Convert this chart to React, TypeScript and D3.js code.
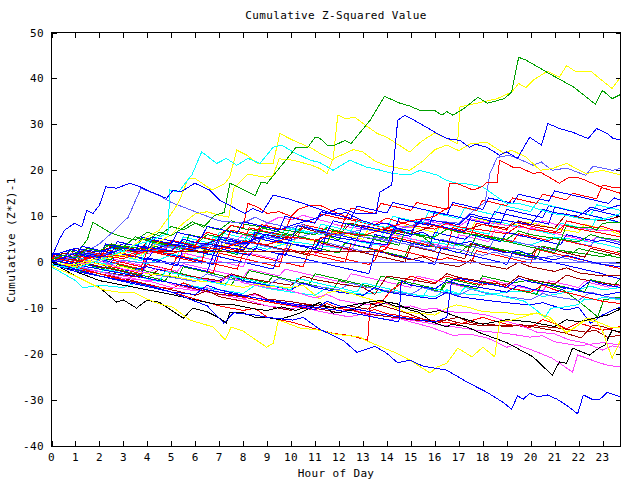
import React from "react";
import * as d3 from "d3";

type P = [number, number];

const title = "Cumulative Z-Squared Value";
const xLabel = "Hour of Day";
const yLabel = "Cumulative (Z*Z)-1";
const xTickValues = [0,1,2,3,4,5,6,7,8,9,10,11,12,13,14,15,16,17,18,19,20,21,22,23];
const yTickValues = [-40,-30,-20,-10,0,10,20,30,40,50];
const xDomain: P = [0, 23.75];
const yDomain: P = [-40, 50];

const RED = "#ff0000", GREEN = "#00a000", BLUE = "#0000ff", MAG = "#ff40ff", CYAN = "#00ffff",
  DRED = "#a00000", YEL = "#ffff00", BLACK = "#000000", BVIO = "#6060ff";

const g1: P[] = [[0,0.5],[0.5,1.5],[1,1],[1.5,3],[2,2.4],[2.5,4],[3,3.3],[3.5,5.5],[4,4.8],[4.5,6.5],[5,5.8],[5.5,7.5],[5.88,8.8],[6.35,7.6],[6.8,10.2],[7.2,10.8],[7.45,17.2],[8.5,14.5],[8.75,17.4],[9,17.2],[9.95,23.3],[10.2,25],[10.7,25],[11,27.2],[11.2,27],[11.5,25.5],[11.83,25.5],[12.25,26.5],[12.5,25.8],[13.3,30.9],[13.9,36.1],[14.55,34.6],[14.95,34],[15.4,33],[16,33],[16.3,32],[16.5,32.8],[16.75,32],[17.2,33.4],[17.8,35.9],[18.2,34.6],[18.9,35.6],[19.2,37],[19.5,44.6],[19.8,44],[20.4,42.2],[20.9,40.7],[21.8,38.1],[22.7,34.4],[23,37.4],[23.4,35.6],[23.75,36.5]];
const y1: P[] = [[0,0],[0.5,-0.5],[1,-0.5],[2,1],[3,2],[3.5,4],[4,5.5],[4.5,7],[5.1,11.3],[5.35,13.5],[5.7,18.2],[6,18.2],[6.7,15.7],[7.2,17],[7.44,18.5],[7.73,24.4],[8.15,23.3],[8.6,21.5],[9.25,21.5],[9.53,28],[10.1,26.5],[10.9,24.7],[11.2,23.7],[11.75,22.2],[11.95,32],[12.3,31.2],[12.65,31.6],[13,30.2],[13.6,28],[14,27.2],[14.95,24],[15.4,26.1],[15.7,27.2],[16,28.1],[16.4,27.2],[16.95,25.8],[17.05,33.8],[17.75,34.6],[18.6,35.6],[19.2,37],[19.5,38.9],[19.8,38],[20.1,39.6],[20.7,41.6],[21.2,40.3],[21.5,42.8],[21.9,41.4],[22.5,41.6],[23.4,37.8],[23.75,40.3]];
const y2: P[] = [[0,0],[1,-1],[2,0.5],[3,1.5],[3.5,0.8],[4,2.5],[4.5,4.5],[5,6],[5.5,8.5],[6,10.5],[6.5,11],[7,10.2],[7.4,9.8],[7.6,16],[8.2,19.2],[8.9,18.5],[9.25,18.8],[9.5,22.5],[10.1,22.2],[10.86,21.1],[11.2,20.4],[11.5,19.3],[11.75,22.5],[12.6,24.5],[13,24],[13.5,22],[14,21],[14.95,20],[15.5,22],[16,24.5],[16.5,25.5],[17,24.3],[17.5,25.8],[18.17,26.1],[18.5,25],[18.9,23.7],[19.2,24.4],[19.8,22.9],[20.4,20],[20.9,20.4],[21.5,21.5],[22.3,19.3],[23,20],[23.75,19]];
const c1: P[] = [[0,-0.5],[1,-1.5],[1.5,-0.5],[2,0.5],[2.5,1.5],[3,2.5],[3.5,3.8],[4,4.5],[4.5,5.5],[4.86,6.3],[4.94,15.7],[5.3,15.3],[5.86,19],[6.27,24],[6.9,21.5],[7.3,22.6],[7.73,21.1],[8.2,22.6],[8.7,21.5],[9.25,25],[9.6,25.5],[10.08,24],[10.8,22.2],[11.2,21.7],[11.75,20],[12.45,22.2],[13.15,20.7],[13.6,20.2],[14.25,19.3],[14.95,19],[15.38,20],[16.08,19],[16.5,17.8],[16.9,17.2],[17.4,17],[18,16.4],[18.6,14.2],[19,12.8],[19.5,12.8],[19.9,12.3],[20.9,10.6],[21.5,10.2],[22.3,9.2],[22.9,9.2],[23.3,9.8],[23.75,10.6]];
const b1: P[] = [[0,1],[0.35,5.2],[0.55,7],[0.97,8.5],[1.26,7.7],[1.48,11.3],[1.73,10.6],[2,12.4],[2.27,16.4],[2.72,16.1],[3.27,17.2],[3.7,16.4],[3.97,15.7],[4.8,13.9],[5.08,15.7],[5.4,15.3],[5.98,17.2],[6.6,15.7],[7.02,13.5],[8.07,10.6],[8.4,11.7],[8.8,10.8],[9.25,14.6],[9.82,13.9],[10.5,12.8],[11.2,11.5],[11.8,10.5],[12.3,10.8],[13,9],[13.5,8.2],[14,8.5],[14.5,7.2],[15,6],[15.5,6.5],[16,5],[17,4],[17.5,4.5],[18,3.2],[19,2],[19.5,2.6],[20,1.5],[21,0.5],[21.5,1.5],[22,0.8],[23,-0.5],[23.75,-1]];
const b2: P[] = [[0,0],[1,2],[2,1],[3,3],[4,2.5],[5,4],[6,3],[7,5],[8,4],[9,6],[10,8],[11,9.5],[12,11.8],[12.8,10.5],[13.55,10.6],[13.7,15.2],[14.2,16.8],[14.45,30.9],[14.75,32],[15.38,30.2],[16,28.3],[16.5,26.9],[17.05,26.5],[17.45,25],[17.7,25.7],[18.17,25],[18.7,23.3],[19,24],[19.45,22.6],[19.96,27.2],[20.45,25.5],[20.72,30.2],[21.2,29.1],[21.75,28.3],[22.4,26.9],[22.75,29.1],[23.2,28],[23.45,26.9],[23.75,26.7]];
const bv1: P[] = [[0,0],[1,1],[2,4],[2.65,7],[3.2,9.8],[3.73,16.1],[4.5,14.5],[5,13],[6,11],[7,9],[8,8.5],[8.5,9.8],[9,8.6],[10,7.5],[10.5,8.2],[11,7],[12,6],[12.5,6.6],[13,5.5],[14,4.7],[15,3.8],[15.5,4.5],[16,3.5],[17,2.8],[18,1.5],[18.5,2.2],[19,1.4],[20,0.5],[21,1.4],[22,0.2],[23,-0.5],[23.75,-0.2]];
const bv2: P[] = [[0,1],[1,2],[2,1.3],[3,3],[4,2.2],[5,3.5],[6,2.8],[7,4.5],[8,3.8],[9,5.5],[10,4.8],[11,6.5],[12,5.8],[13,7.2],[14,6.5],[15,8],[16,9],[17,8.5],[17.8,12],[18.1,13],[18.3,19.3],[18.6,22.8],[19.1,23.3],[19.5,22.5],[20.1,21.1],[20.45,21.8],[20.9,20],[21.5,20.5],[22.3,18.9],[22.6,20.9],[23,20.5],[23.4,20],[23.75,20.4]];
const r1: P[] = [[0,1],[1,0],[2,1.5],[3,0.8],[4,2.5],[5,1.8],[6,3.5],[7,2.8],[8,4.5],[9,3.8],[10,5.5],[11,4.8],[12,6.5],[13,5.8],[14,7.5],[15,9],[16,10],[16.55,12],[16.6,17.2],[17,17],[17.6,15.7],[18,16.5],[18.17,17.4],[18.6,17.4],[18.7,22.2],[19.25,20.7],[19.6,20.5],[20.1,19.3],[20.4,19.6],[21.2,17.2],[21.6,18.5],[22,18.4],[22.3,17.8],[23,16.2],[23.75,15]];
const b3: P[] = [[0,0],[1,-1.5],[2,-3],[3,-4],[4,-5],[5,-6.5],[6,-8.5],[6.5,-9.5],[7.2,-13.3],[7.6,-11],[8.5,-11.5],[9,-12],[10.07,-12.6],[10.5,-12],[11.2,-14.6],[12.17,-17],[12.75,-19.6],[13.5,-18.3],[13.99,-19.8],[14.45,-21.9],[14.95,-21.3],[15.5,-22.6],[16.5,-23.5],[17.35,-26.1],[18.17,-28.3],[18.85,-30.5],[19.2,-32],[19.45,-29.1],[19.7,-29.8],[19.96,-28.5],[20.3,-29.3],[20.7,-28.9],[21.1,-29.8],[21.6,-31.5],[21.96,-33],[22.2,-28.9],[22.55,-29.8],[22.9,-29.8],[23.2,-28.3],[23.45,-28.8],[23.75,-29.3]];
const y3: P[] = [[0,0],[0.06,-1],[1,-3],[2.15,-6],[2.78,-6.5],[3.4,-6.5],[3.82,-7.6],[4.4,-8.9],[5.07,-9.8],[5.78,-12.6],[6.75,-14.1],[7.25,-16.9],[7.5,-14.1],[8,-15],[8.98,-18.5],[9.26,-17.6],[9.47,-12.6],[9.8,-13.2],[10.36,-14.3],[11.2,-14.8],[11.9,-15.7],[12.87,-16.3],[13.2,-17.2],[14.4,-19.8],[14.95,-21.3],[15.8,-24.1],[16.1,-22.8],[16.5,-22],[16.96,-18.7],[17.55,-20.6],[18,-18.5],[18.5,-20.6],[18.7,-13],[19.3,-12.5],[20.25,-11],[20.8,-12],[21.5,-15.4],[21.9,-14.1],[22.3,-12.2],[22.7,-12.5],[23,-15],[23.4,-20.9],[23.75,-17]];
const k1: P[] = [[0,0],[1,-3],[2,-5.5],[2.72,-8.7],[3,-8.2],[3.55,-10],[3.97,-8.3],[4.5,-8.7],[5.5,-12.2],[5.9,-10],[6.5,-10.8],[7.03,-12.2],[7.3,-13.3],[7.44,-10.9],[8,-11],[8.5,-12],[9,-12],[9.5,-12.5],[10.36,-11.1],[10.78,-10],[11.2,-8.7],[11.75,-11.1],[12.5,-10.5],[13.2,-8.7],[13.6,-9.5],[14,-8.7],[14.4,-9],[14.95,-10.4],[15.3,-10.8],[15.9,-13],[16.5,-14.1],[16.7,-13.5],[17.3,-14],[17.9,-15.4],[19,-17.5],[20.1,-20.6],[20.9,-24.6],[21.2,-21.7],[21.5,-22],[21.75,-18.7],[22.45,-20.2],[22.85,-18.7],[23.1,-18],[23.4,-14.8],[23.75,-15.2]];
const m1: P[] = [[0,0],[1,-1.5],[2,-2],[3,-3.5],[4,-4],[5,-5.5],[6,-6.2],[6.5,-5.5],[7,-7],[8,-8],[9,-9.5],[10,-10.2],[10.5,-9.5],[11,-10.5],[12,-11.5],[12.45,-11.9],[13,-11.2],[13.5,-12],[14,-12.5],[14.5,-12.2],[15,-13],[15.8,-14.1],[16.75,-15.9],[17.5,-15.7],[18.2,-16.5],[19,-18.5],[19.4,-17.9],[20.25,-19.5],[20.9,-20.9],[21.75,-23.9],[21.96,-20.2],[22.3,-20.8],[22.85,-21.9],[23.3,-22.5],[23.75,-22.8]];
const m2: P[] = [[0,0.5],[1,-0.5],[2,0.3],[3,-1.5],[4,-2.3],[4.5,-1],[5,-2.2],[6,-3.5],[7,-4.2],[7.5,-3],[8,-4.5],[9,-5.5],[10,-6.2],[11,-7.8],[11.5,-7],[12,-8.2],[13,-9.2],[14,-9],[14.5,-9.8],[15,-9.5],[15.5,-10.3],[16,-10],[16.5,-10.8],[17.35,-10.9],[18.17,-11.5],[18.8,-12.6],[19.55,-13.7],[20.25,-15.2],[21,-15.6],[21.6,-16.9],[22.3,-17.6],[23,-19.1],[23.4,-18.2],[23.75,-18.5]];
const dr1: P[] = [[0,1],[1,0.5],[2,-1],[3,-2],[4,-3.5],[5,-4.5],[6,-5.8],[7,-7],[8,-7.5],[8.5,-6.8],[9,-8],[10,-8.6],[11,-9.4],[11.8,-10],[12.6,-9.7],[13.2,-10.2],[13.7,-9.3],[14.5,-10.5],[15.4,-12.2],[16.1,-13.3],[16.5,-12.5],[17,-12],[17.5,-13.2],[18.3,-13.5],[19,-14.1],[19.6,-13.6],[20.9,-14.8],[21.5,-15.5],[22.1,-16.5],[22.6,-13.7],[23,-14],[23.75,-15.4]];
const y4: P[] = [[0,2],[1,1],[2,-0.5],[3,-1],[4,-2.5],[5,-3],[6,-4],[7,-4.5],[8,-5.5],[8.5,-4.8],[9,-5.2],[10,-5.5],[10.5,-5],[11.2,-8],[11.5,-6.7],[12,-6.1],[12.5,-6.8],[13,-7.6],[13.6,-8.5],[14.2,-9.5],[14.8,-10.9],[15.5,-11.2],[16,-11.5],[16.5,-10],[16.9,-9.3],[17.4,-9.8],[17.9,-10.6],[18.4,-10.9],[19,-11],[19.55,-11.5],[20.3,-11.1],[20.8,-12.6],[21.5,-15.2],[21.9,-14],[22.3,-12.6],[22.8,-13],[23.4,-14.3],[23.75,-14.1]];
const dr2: P[] = [[0,1],[0.5,2],[1,1.5],[1.5,3],[2,2.5],[2.5,3.2],[3,2.6],[3.5,2.3],[13.8,2.3],[14.2,1.5],[15,0.5],[15.5,1.2],[16,0],[17,-1],[17.5,0.5],[18,-0.5],[19,-1.5],[19.5,0],[20,-1],[21,-2],[21.5,-1.2],[22,-2.3],[23,-3],[23.75,-2.8]];
const bv3: P[] = [[0,1],[0.5,0.5],[1,1.2],[1.5,0.3],[2,0.8],[2.5,-0.5],[3,0.4],[3.7,-0.1],[23.75,-0.1]];
const r2: P[] = [[0,0],[0.75,-0.9],[1,1.5],[2,0.3],[2.25,2.8],[3.5,1.3],[3.75,3.5],[4.75,2.3],[5,4.8],[6,3.6],[6.25,5.5],[7.25,4.3],[7.5,7],[8.5,5.8],[8.75,8.2],[9.75,7],[10,9.8],[11,8.6],[11.25,10.5],[12.25,9.3],[12.5,11.8],[13.5,10.6],[13.75,12.8],[15,11.3],[15.25,13],[16.5,11.5],[16.75,12.5],[17.75,11.3],[18,13.5],[19,12.3],[19.25,14],[20.25,12.8],[20.5,14.8],[21.5,13.6],[21.75,15],[22.75,13.8],[23,16.8],[23.5,16.2],[23.75,16.3]];
const b4: P[] = [[0,1],[0.5,0.4],[0.75,2.8],[2,1.3],[2.25,4],[3.5,2.5],[3.75,5.5],[5,4],[5.25,6.5],[6.25,5.3],[6.5,7.8],[7.75,6.3],[8,8.8],[9.5,7],[9.75,10],[11,8.5],[11.25,11],[12.5,9.5],[12.75,12.2],[14,10.7],[14.25,13],[15.5,11.5],[16.5,10.3],[16.75,13],[18,11.5],[18.25,14],[19.25,12.8],[19.5,14.8],[20.75,13.3],[21,15.5],[22.25,14],[23.25,12.8],[23.5,14],[23.75,13.5]];
const c2: P[] = [[0,0],[1,-1.2],[1.25,0.8],[2.25,-0.4],[2.5,1.8],[3.75,0.3],[4,3],[5.25,1.5],[5.5,4.5],[6.5,3.3],[6.75,5.5],[8,4],[8.25,6.5],[9.5,5],[9.75,7.5],[11,6],[11.25,8.3],[12.5,6.8],[12.75,9],[14,7.5],[14.25,10],[15.5,8.5],[15.75,11],[17,9.5],[17.25,11.8],[18.5,10.3],[18.75,12.5],[20,11],[20.25,13],[21.5,11.5],[22.5,10.3],[22.75,12.5],[23.75,11.3]];
const b5: P[] = [[0,2],[1,0.8],[1.25,3.5],[2.5,2],[2.75,4.5],[4,3],[4.25,5.5],[5.5,4],[6.75,2.5],[7,5.5],[8.25,4],[8.5,6.5],[10,4.7],[10.25,8],[11.5,6.5],[11.75,9],[13,7.5],[14.25,6],[14.5,9.5],[15.75,8],[16,11],[17.25,9.5],[18.25,8.3],[18.5,11],[19.75,9.5],[20.75,8.3],[21,12],[22.25,10.5],[22.5,11.5],[23.75,10]];
const b6: P[] = [[0,-0.5],[0.75,-1.4],[1,1.5],[2.25,0],[2.5,2.5],[3.75,1],[5.25,-0.8],[5.5,3],[6.75,1.5],[7,4.5],[8.5,2.7],[8.75,5.5],[10,4],[11.25,2.5],[11.5,6.5],[12.75,5],[13,8],[14.25,6.5],[15,5.6],[15.25,9],[16.5,7.5],[17.25,6.6],[17.5,10],[18.75,8.5],[19,11.5],[20.5,9.7],[20.75,12.3],[22,10.8],[23.5,9],[23.75,8.5]];
const g2: P[] = [[0,0.5],[1,-0.7],[1.25,2],[2.5,0.5],[2.75,3.5],[4,2],[4.25,4.5],[5.5,3],[5.75,6],[7,4.5],[7.25,7],[8.5,5.5],[8.75,7.5],[10,6],[11.5,4.2],[11.75,7],[13,5.5],[14.5,3.7],[14.75,6.5],[16,5],[17.5,3.2],[17.75,6],[19,4.5],[21,2.1],[21.25,4.8],[21.5,8],[22,7.5],[22.5,7.6],[22.75,7],[23,8.5],[23.75,8.7]];
const r3: P[] = [[0,1.5],[1,0.3],[1.25,2],[2.5,0.5],[3.75,-1],[4,2.5],[5.25,1],[6.25,-0.2],[6.5,4],[7.75,2.5],[8,3.5],[8.25,7.5],[9.5,6],[10.25,5.1],[10.5,8.2],[11.75,6.7],[12,6.5],[12.25,9.5],[13.5,8],[15,6.2],[15.25,8.8],[16.5,7.3],[17.5,6.1],[17.75,8.5],[19,7],[19.25,8.8],[20.5,7.3],[21.25,6.4],[21.5,9],[22.75,7.5],[23,7.8],[23.75,6.5]];
const m3: P[] = [[0,0],[1,-1.2],[1.25,0],[2.25,-1.2],[2.5,0.8],[3.75,-0.7],[4,1],[5.25,-0.5],[5.5,2],[6.75,0.5],[8,-1],[8.25,2],[9.5,0.5],[9.75,3],[11,1.5],[11.25,4],[12.5,2.5],[12.75,5],[14,3.5],[14.25,6],[15.5,4.5],[16.75,3],[17,6],[18.25,4.5],[18.5,7],[19.75,5.5],[20,7.5],[21.25,6],[22.5,4.5],[22.75,5.5],[23.75,4.4]];
const b7: P[] = [[0,1],[1,-0.2],[1.25,1.5],[2.5,0],[2.75,2],[4,0.5],[4.25,2.5],[5.5,1],[6.75,-0.5],[7,3],[8.25,1.5],[8.5,3],[9.75,1.5],[10,4],[11,2.8],[11.25,5.5],[12.5,4],[13.25,3.1],[13.5,6],[14.75,4.5],[15.75,3.3],[16,6.5],[17.25,5],[17.5,6],[18.75,4.5],[19,6.5],[20.25,5],[21.25,3.8],[21.5,6],[22.75,4.5],[23,4.8],[23.75,3.8]];
const r4: P[] = [[0,0],[1,-1.2],[1.25,0.5],[2.5,-1],[3.75,-2.5],[4,1],[5.25,-0.5],[6.75,-2.3],[7,2],[8.25,0.5],[9.5,-1],[9.75,3],[11,1.5],[12.25,0],[12.5,4],[13.75,2.5],[14,3],[14.25,5.5],[15.5,4],[16.5,2.8],[16.75,7.5],[18,6],[19.25,4.5],[19.5,6.2],[20.75,4.7],[21,5.2],[22.25,3.7],[23.75,1.9]];
const g3: P[] = [[0,1],[0.5,0.4],[0.75,2.5],[2,1],[2.25,3.8],[3.5,2.3],[3.75,5],[5,3.5],[6.25,2],[6.5,3.2],[7.75,1.7],[8,4.8],[9.25,3.3],[10.5,1.8],[10.75,3.5],[12,2],[12.25,4.2],[13.5,2.7],[14.75,1.2],[15,4.5],[16.25,3],[17.5,1.5],[17.75,4],[19,2.5],[20.25,1],[20.5,3.5],[21.75,2],[22,3],[23.25,1.5],[23.75,0.9]];
const r5: P[] = [[0,0.5],[1,-0.7],[1.25,1.5],[2.5,0],[3.75,-1.5],[4,-0.5],[5,-1.7],[5.25,1.5],[6.5,0],[7.75,-1.5],[8,2],[9.25,0.5],[10.5,-1],[10.75,2.5],[12,1],[13.25,-0.5],[13.5,0.5],[13.75,3.5],[15,2],[16.25,0.5],[16.5,1],[17.5,-0.2],[17.75,2.5],[19,1],[20,-0.2],[20.25,2.8],[21.5,1.3],[22.75,-0.2],[23.75,-1.4]];
const b8: P[] = [[0,-0.5],[1,-1.7],[1.25,0],[2.5,-1.5],[3.75,-3],[4,1],[5.25,-0.5],[6.5,-2],[6.75,1.5],[8,0],[9.25,-1.5],[9.5,2],[10.75,0.5],[12,-1],[13.25,-2.5],[13.5,2.5],[14.75,1],[16,-0.5],[16.25,3],[17.5,1.5],[18.75,0],[19,-0.5],[19.25,2],[20.5,0.5],[21.75,-1],[23,-2.5],[23.25,-3],[23.75,-3.6]];
const c3: P[] = [[0,0],[1,-1.2],[2,-2.4],[2.25,-1.5],[3.5,-3],[4.5,-4.2],[4.75,-2],[6,-3.5],[7.25,-5],[7.5,-3],[8.75,-4.5],[10,-6],[10.25,-3.5],[11.5,-5],[12.75,-6.5],[13,-4.5],[14.25,-6],[15.5,-7.5],[15.75,-5.5],[17,-7],[17.25,-5.5],[18.5,-7],[19.75,-8.5],[20.6,-11.9],[20.85,-10],[21.35,-9.8],[22,-9.2],[22.25,-8],[22.75,-8.2],[23,-7.6],[23.75,-8.2]];
const g4: P[] = [[0,0],[1,-1.2],[1.25,-0.3],[2.5,-1.8],[2.75,-0.5],[4,-2],[5.25,-3.5],[5.5,-1],[6.75,-2.5],[8,-4],[8.25,-1.8],[9.5,-3.3],[10.75,-4.8],[11,-2.5],[12.25,-4],[13.5,-5.5],[13.75,-3],[15,-4.5],[16.25,-6],[16.5,-3.5],[17.75,-5],[18,-3],[19.25,-4.5],[19.96,-3.9],[21.35,-6],[22.1,-8.9],[22.8,-11.9],[23.05,-8.2],[23.75,-7.6]];
const b9: P[] = [[0,1],[1,0],[2,-1],[3,-2],[4,-1],[5,-2.3],[6,-3.5],[7,-4.5],[7.5,-2.8],[8,-4],[9,-5],[10,-6],[10.5,-4.5],[11,-5.5],[12,-6.5],[13,-7.2],[13.5,-5.5],[14,-6.5],[15,-7.3],[16,-8],[16.5,-6.5],[17,-7.5],[18,-8.2],[19,-8.8],[19.96,-9.3],[20.5,-8.8],[21.5,-10.4],[22,-9.8],[22.5,-13.3],[23,-11.5],[23.4,-10.5],[23.75,-9.8]];
const dr3: P[] = [[0,0],[1,-1.2],[2,-2.5],[3,-3.5],[4,-4.8],[5,-6],[6,-7.2],[6.5,-6.2],[7,-7.5],[8,-8.5],[9,-9.5],[10,-10.5],[10.5,-9],[11,-10],[12,-11],[12.5,-10.2],[13,-11.2],[14,-11.8],[15,-12.5],[16,-13],[16.5,-12.5],[17,-13.2],[18,-13.8],[19,-13.7],[19.96,-13.7],[21.1,-14.3],[22.3,-15.2],[22.7,-14.8],[23.2,-16.3],[23.75,-15.9]];
const m4: P[] = [[0,0.5],[1,-0.8],[2,-2],[3,-3],[4,-4.2],[4.5,-3.5],[5,-4.8],[6,-6],[7,-7],[8,-8],[8.5,-7],[9,-8.2],[10,-9.2],[11,-10],[12,-11],[12.5,-10],[13,-11],[14,-11.8],[15,-12.6],[16,-13.5],[17,-14.2],[18,-15],[19,-15.5],[19.96,-16.3],[20.5,-16],[21,-17.3],[22,-18.2],[23,-17.5],[23.75,-18]];
const r6: P[] = [[0,1],[1,0],[2,2],[3,1.2],[4,3],[5,2.3],[5.5,5],[6,4.3],[6.5,6.5],[7,5.8],[7.5,8],[8,7.5],[8.2,12.8],[8.6,12],[9,10.6],[9.5,11],[10,10],[10.3,11.5],[10.8,12.4],[11.2,12.4],[12,10.5],[12.5,9.5],[13,9],[13.5,8.2],[14,9.6],[14.5,8.8],[15,8],[16,7.2],[16.5,8.5],[17,7.7],[18,7],[19,6.2],[19.5,8],[20,7.2],[21,6.4],[21.4,8],[22,7.2],[23,6.3],[23.75,5.5]];
const g5: P[] = [[0,0.5],[0.5,2],[1,1.5],[1.5,5],[1.73,8.7],[2.5,6.3],[3,5.5],[3.5,4.8],[4,6.5],[4.5,5.8],[5,7.8],[5.5,7],[6,8.5],[6.5,7.8],[7,7],[7.5,9],[8,8.3],[9,7.5],[10,6.8],[11,6],[11.5,7.5],[12,6.7],[13,6],[14,5.2],[14.5,7],[15,6.2],[16,5.5],[16.5,7.2],[17,6.5],[18,5.7],[19,5],[19.5,6.8],[20,6],[21,5.2],[22,4.4],[22.5,6],[23,5.3],[23.75,4.8]];
const g6: P[] = [[0,0],[1,1],[2,2.5],[2.5,2],[3,3.5],[4,2.8],[5,4.5],[6,3.8],[6.5,6],[7,5.5],[7.5,8],[8,7.3],[9,6.5],[10,5.8],[10.5,7.8],[11,7],[12,4.8],[12.3,8.5],[13,7.8],[14,7],[15,6.2],[15.5,5.5],[16,3.5],[16.5,2.8],[17,2],[17.5,4],[18,3.3],[19,2.5],[20,1.8],[20.5,3.5],[21,2.8],[22,2],[23,1.2],[23.75,2.5]];
const m5: P[] = [[0,0],[1,1.5],[2,0.8],[3,2.5],[4,1.8],[5,3.5],[6,2.8],[7,4.5],[7.5,3.8],[8,6],[8.5,5.3],[9,8.5],[9.5,9.8],[10,9.2],[10.5,10.2],[11,9.5],[11.5,8.8],[12,8],[13,7.2],[13.5,9],[14,8.3],[15,7.5],[15.5,9.3],[16,8.6],[17,7.8],[17.5,9.5],[18,8.8],[19,8],[20,7.3],[20.5,9],[21,8.3],[22,7.5],[23,6.8],[23.75,7]];
const c4: P[] = [[0,-0.5],[1,-1.5],[2,-1],[3,0.5],[4,-0.3],[5,1.5],[6,0.8],[7,2.5],[8,1.8],[8.5,3.5],[9,2.8],[10,4.5],[11,3.8],[12,3],[12.5,5],[13,4.3],[14,3.5],[14.5,5.8],[15,5],[16,4.3],[17,3.5],[17.5,6],[18,5.3],[19,4.5],[20,3.8],[21,5.5],[22,4.8],[23,4],[23.75,3]];
const c5: P[] = [[0,-1],[0.5,-2.5],[1,-4],[1.3,-5.6],[2,-5],[3,-5.5],[3.5,-4.5],[4,-5.2],[5,-5.8],[5.5,-4.5],[6,-5.3],[7,-6],[8,-6.8],[8.5,-5],[9,-5.7],[10,-6.5],[11,-7.2],[11.5,-5.5],[12,-6.2],[13,-7],[14,-6.3],[15,-7],[16,-7.5],[16.5,-6],[17,-6.8],[18,-7.2],[19,-6.5],[20,-6.2],[20.5,-7.5],[21,-7],[22,-6],[22.5,-5.2],[23,-6],[23.75,-5.5]];
const r8: P[] = [[0,1],[1,-1],[2,-2.5],[3,-4],[4,-5],[5,-6.5],[6,-8],[7,-9.5],[8,-10.5],[8.5,-10],[9,-12],[10,-13],[11,-14.5],[11.8,-15.5],[12.5,-16],[13.2,-17],[13.3,-9.3],[13.8,-8.5],[14.2,-6],[14.5,-5],[15,-3],[15.3,-3.5],[16,-4.5],[16.5,-3],[17,-3.8],[18,-5],[18.5,-4.2],[19,-5.5],[20,-6.5],[20.5,-5],[21,-6],[22,-7.2],[23,-8.5],[23.75,-9]];
const r9: P[] = [[0,0],[1,-1.5],[2,-2.5],[3,-3.8],[4,-5],[5,-5.8],[5.5,-4.5],[6,-5.5],[7,-6.5],[8,-7.6],[9,-8.6],[10,-9.5],[11,-10.4],[11.5,-9],[12,-10],[13,-11],[13.5,-10.3],[14,-11.2],[15,-12],[16,-12.8],[17,-13.5],[18,-12],[18.5,-12.8],[19,-13.5],[20,-14.2],[20.5,-12.5],[21,-13.3],[21.5,-14.5],[22,-13.2],[22.5,-14],[23,-14.8],[23.75,-14]];
const dr4: P[] = [[0,2],[0.75,1.1],[1,3],[2.25,1.5],[2.5,4],[3.75,2.5],[4,5],[5.25,3.5],[6.5,2],[6.75,4],[8,2.5],[8.25,4.5],[9.5,3],[10.75,1.5],[11,4.5],[12.25,3],[13.5,1.5],[14.75,0],[15,3.5],[16.25,2],[17.25,0.8],[17.5,4],[18.75,2.5],[20,1],[20.25,3.5],[21.5,2],[22.25,1.1],[22.5,3],[23.75,1.5]];
const dr5: P[] = [[0,0],[1,-1],[2,-2],[3,-2.8],[4,-3.5],[4.5,-1.5],[5,-2.3],[6,-3.2],[7,-4],[7.5,-2.5],[8,-3.3],[9,-4.2],[10,-5],[10.5,-3],[11,-3.8],[12,-4.7],[13,-5.5],[13.5,-7],[14,-3],[15,-3.8],[16,-4.7],[16.5,-2.5],[17,-3.3],[18,-4.2],[19,-5],[19.5,-3],[20,-3.8],[21,-4.7],[21.5,-2.8],[22,-3.6],[23,-4.5],[23.75,-5]];
const dr6: P[] = [[0,1],[1,2],[2,1.2],[3,3],[4,2.2],[5,4],[6,3.2],[7,5],[8,4.2],[9,6],[10,5.2],[10.5,7.5],[11,6.7],[12,6],[12.5,8.5],[13,7.8],[14,7],[15,6.2],[16,8],[16.5,7.2],[17,6.5],[18,8.2],[19,7.4],[19.5,9],[20,8.2],[21,7.4],[21.5,10.5],[22,9.8],[23,9],[23.75,10]];
const k2: P[] = [[0,0],[1,-2],[2,-4],[3,-5],[4,-6],[5,-7],[6,-8.2],[7,-9.3],[7.66,-9.3],[8.5,-10.2],[9,-10.5],[9.6,-9.7],[10.2,-10.5],[10.65,-9.7],[11.1,-9],[11.8,-10],[12.5,-9.4],[13.2,-8.7],[13.8,-8.3],[14.3,-9.5],[15,-10],[15.7,-11],[16.2,-10.5],[17,-12],[18,-13.5],[19,-12.5],[20,-13],[21,-14],[21.5,-12.5],[22,-13],[22.8,-12],[23.2,-11.5],[23.75,-10.2]];
const bv4: P[] = [[0,2],[1,0.8],[1.25,2.5],[2.5,1],[2.75,3.5],[4,2],[4.25,4],[5.5,2.5],[5.75,4.5],[7,3],[7.25,5.5],[8.5,4],[9.75,2.5],[10,6],[11.25,4.5],[12.5,3],[13.25,2.1],[13.5,5.5],[14.75,4],[16,2.5],[16.25,5],[17.5,3.5],[18.25,2.6],[18.5,5.5],[19.75,4],[21,2.5],[21.25,5],[22.5,3.5],[22.75,5.5],[23.75,4.3]];
const bv5: P[] = [[0,0],[1,-1],[2,-2],[3,-3],[3.5,-1.5],[4,-2.5],[5,-3.3],[6,-4.2],[6.5,-2.5],[7,-3.3],[8,-4.2],[9,-5],[9.5,-3.5],[10,-4.3],[11,-5.2],[12,-6],[12.5,-4.5],[13,-5.3],[14,-6.2],[15,-7],[15.5,-5.5],[16,-6.3],[17,-7.2],[17.5,-5.8],[18,-6.6],[19,-7.5],[20,-8.2],[20.5,-6.8],[21,-7.5],[22,-8.3],[22.5,-6.5],[23,-7.3],[23.75,-8]];
const b10: P[] = [[0,0.5],[1,-0.5],[2,-1.5],[3,-2.5],[4,-3.5],[5,-4.5],[6,-5.5],[7,-6.5],[8,-7.3],[9,-8.2],[10,-9],[11,-9.8],[12,-10.5],[13,-11.5],[14,-12.5],[14.5,-13],[14.6,-4],[15,-5],[16,-5.8],[16.5,-4],[17,-4.8],[18,-5.6],[19,-6.5],[19.5,-5],[20,-5.8],[21,-6.7],[21.5,-5.5],[22,-6.3],[23,-7.2],[23.75,-6.5]];
const b11: P[] = [[0,-0.5],[1,-2],[2,-3],[3,-4.2],[4,-5.3],[5,-6.5],[6,-7],[6.5,-5],[7,-6],[8,-7.2],[9,-8.3],[10,-9.3],[11,-10.3],[11.5,-8.5],[12,-9.5],[13,-10.5],[14,-11.5],[15,-12.3],[16,-13],[16.5,-12],[16.7,-4],[17,-3.5],[18,-4.5],[19,-5.5],[19.5,-3.5],[20,-4.3],[21,-5.2],[22,-6],[22.5,-4],[23,-4.8],[23.75,-5.5]];
const b12: P[] = [[0,1.5],[1,3],[2,2.2],[3,4],[4,3.3],[5,2.5],[5.5,5],[6,4.3],[7,3.5],[8,2.7],[8.5,5.5],[9,4.7],[10,4],[11,3.2],[11.5,6],[12,5.3],[13,4.5],[14,3.8],[14.3,7.5],[15,6.8],[15.5,9.5],[16,9],[17,8.2],[17.5,10.5],[18,9.8],[19,9],[20,8.2],[20.5,11.5],[21,10.8],[22,10],[22.5,12],[23,11.3],[23.75,12.5]];
const m6: P[] = [[0,0],[1,-1.2],[1.25,0.5],[2.5,-1],[3.75,-2.5],[4,-0.5],[5.25,-2],[5.5,-0.3],[6.75,-1.8],[8,-3.3],[8.25,-1.5],[9.5,-3],[9.75,-1.5],[11,-3],[12.25,-4.5],[12.5,-2.5],[13.75,-4],[15,-5.5],[15.25,-3],[16.5,-4.5],[17.75,-6],[18,-3.5],[19.25,-5],[20.5,-6.5],[20.75,-4],[22,-5.5],[22.25,-4.2],[23.25,-5.4],[23.75,-5]];
const c6: P[] = [[0,0.5],[0.75,-0.4],[1,2],[2.25,0.5],[2.5,3],[3.75,1.5],[4,4.5],[5.25,3],[5.5,5.5],[6.75,4],[7,6.5],[8.25,5],[8.5,7],[9.75,5.5],[10,7.5],[11.25,6],[11.5,8],[12.75,6.5],[13.75,5.3],[14,7.8],[15.25,6.3],[16,5.4],[16.25,8.5],[17.5,7],[18.25,6.1],[18.5,9],[19.75,7.5],[21,6],[21.25,8.5],[22.5,7],[22.75,9.8],[23.75,8.6]];
const y5: P[] = [[0,1],[1,-0.2],[1.25,1.5],[2.5,0],[2.75,2],[4,0.5],[4.25,2.5],[5.5,1],[5.75,3.5],[7,2],[7.25,4],[8.5,2.5],[8.75,5],[10,3.5],[10.25,5.5],[11.5,4],[11.75,6.5],[13,5],[13.25,7.5],[14.5,6],[14.75,8],[16,6.5],[16.25,8.5],[17.5,7],[17.75,9.5],[19,8],[19.96,8.7],[20.75,7.7],[21,7.3],[22,6.5],[22.25,8.2],[23.25,7],[23.75,6]];
const g7: P[] = [[0,-0.5],[1,-1.7],[2,-2.9],[2.25,-1],[3.5,-2.5],[4.75,-4],[5,-2],[6.25,-3.5],[7.5,-5],[7.75,-3],[9,-4.5],[9.25,-3],[10.5,-4.5],[11.75,-6],[12,-4],[13.25,-5.5],[14.25,-6.7],[14.5,-4.3],[15.75,-5.8],[16.25,-6.4],[16.5,-4.3],[17.75,-5.8],[18,-4.3],[19.25,-5.8],[20.25,-7],[20.5,-4.3],[21.75,-5.8],[22.25,-6.4],[22.5,-3.8],[23.5,-5],[23.75,-3.5]];

const seriesList: { data: P[]; color: string }[] = [
  { data: y5, color: YEL }, { data: c4, color: CYAN }, { data: c5, color: CYAN }, { data: c6, color: CYAN },
  { data: m3, color: MAG }, { data: m5, color: MAG }, { data: m6, color: MAG }, { data: m4, color: MAG },
  { data: g3, color: GREEN }, { data: g4, color: GREEN }, { data: g6, color: GREEN }, { data: g7, color: GREEN },
  { data: dr4, color: DRED }, { data: dr5, color: DRED }, { data: dr6, color: DRED }, { data: dr3, color: DRED },
  { data: bv4, color: BVIO }, { data: bv5, color: BVIO },
  { data: r3, color: RED }, { data: r4, color: RED }, { data: r5, color: RED }, { data: r9, color: RED },
  { data: b6, color: BLUE }, { data: b7, color: BLUE }, { data: b8, color: BLUE }, { data: b9, color: BLUE },
  { data: y4, color: YEL }, { data: m2, color: MAG }, { data: m1, color: MAG }, { data: dr1, color: DRED },
  { data: c3, color: CYAN }, { data: c2, color: CYAN }, { data: g5, color: GREEN }, { data: g2, color: GREEN },
  { data: r2, color: RED }, { data: r6, color: RED }, { data: r8, color: RED },
  { data: k2, color: BLACK }, { data: k1, color: BLACK },
  { data: dr2, color: DRED }, { data: bv3, color: BVIO }, { data: bv1, color: BVIO }, { data: bv2, color: BVIO },
  { data: b4, color: BLUE }, { data: b5, color: BLUE }, { data: b10, color: BLUE }, { data: b11, color: BLUE }, { data: b12, color: BLUE },
  { data: y3, color: YEL }, { data: y2, color: YEL }, { data: y1, color: YEL }, { data: c1, color: CYAN },
  { data: r1, color: RED }, { data: g1, color: GREEN }, { data: b3, color: BLUE }, { data: b1, color: BLUE }, { data: b2, color: BLUE },
];

const W = 640, H = 480;
const left = 51.5, right = 620.5, top = 32.5, bottom = 446;
const FONT = "'DejaVu Sans Mono', 'Liberation Mono', monospace";
const FS = 11;
const LS = 0.35;

export default function App() {
  const x = d3.scaleLinear().domain(xDomain).range([left, right]);
  const y = d3.scaleLinear().domain(yDomain).range([bottom, top]);
  const line = d3.line<P>().x(d => x(d[0])).y(d => y(d[1]));
  const tl = 5;
  return (
    <svg width={W} height={H} style={{ position: "absolute", left: 0, top: 0, background: "#fff" }}>
      <rect x={0} y={0} width={W} height={H} fill="#fff" />
      <defs>
        <clipPath id="plot"><rect x={left} y={top} width={right - left} height={bottom - top} /></clipPath>
      </defs>
      <g clipPath="url(#plot)">
        {seriesList.map((s, i) => (
          <path key={i} d={line(s.data) || ""} fill="none" stroke={s.color} strokeWidth={1} shapeRendering="crispEdges" />
        ))}
      </g>
      <g stroke="#000" strokeWidth={1} shapeRendering="crispEdges">
        <rect x={left} y={top} width={right - left} height={bottom - top} fill="none" />
        {xTickValues.map(t => (
          <g key={"x" + t}>
            <line x1={Math.round(x(t)) + 0.5} x2={Math.round(x(t)) + 0.5} y1={bottom} y2={bottom - tl} />
            <line x1={Math.round(x(t)) + 0.5} x2={Math.round(x(t)) + 0.5} y1={top} y2={top + tl} />
          </g>
        ))}
        {yTickValues.map(t => (
          <g key={"y" + t}>
            <line x1={left} x2={left + tl} y1={Math.round(y(t)) + 0.5} y2={Math.round(y(t)) + 0.5} />
            <line x1={right} x2={right - tl} y1={Math.round(y(t)) + 0.5} y2={Math.round(y(t)) + 0.5} />
          </g>
        ))}
      </g>
      <g fontFamily={FONT} fontSize={FS} fill="#000" letterSpacing={LS}>
        {xTickValues.map(t => (
          <text key={"xl" + t} x={x(t)} y={461} textAnchor="middle">{t}</text>
        ))}
        {yTickValues.map(t => (
          <text key={"yl" + t} x={44} y={y(t) + 4} textAnchor="end">{t}</text>
        ))}
        <text x={336} y={19} textAnchor="middle">{title}</text>
        <text x={336} y={477} textAnchor="middle">{xLabel}</text>
        <text transform={`translate(15,240) rotate(-90)`} textAnchor="middle">{yLabel}</text>
      </g>
    </svg>
  );
}
